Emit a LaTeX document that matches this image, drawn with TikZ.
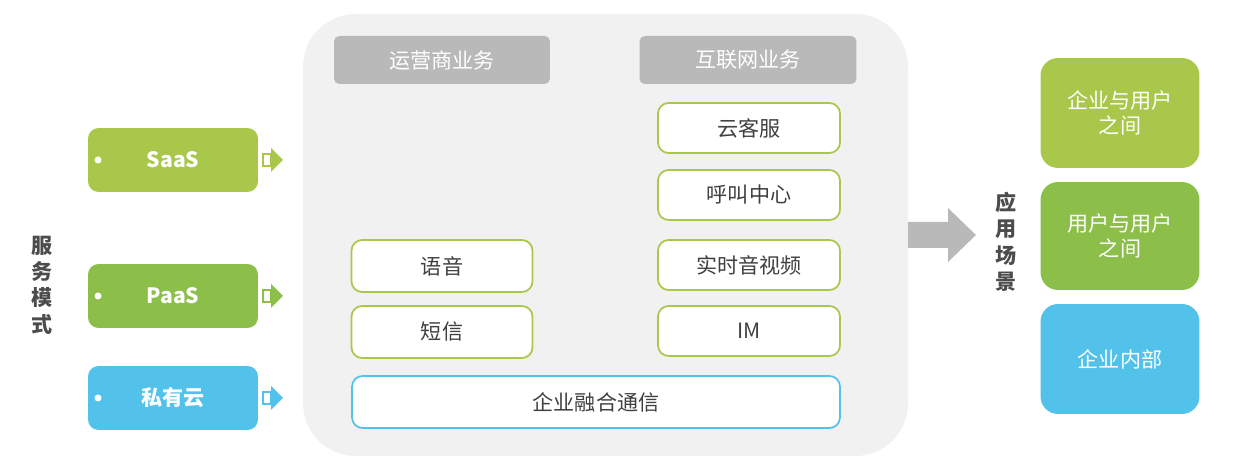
\documentclass[tikz,border=0pt]{standalone}
\usepackage{fontspec}
\setmainfont{Noto Sans CJK SC}
\begin{document}
\begin{tikzpicture}[x=0.02cm,y=-0.02cm,
  lg/.style={fill=lgc,draw=none,rounded corners=6,text=white,font=\large},
  hdr/.style={fill=hdrc,draw=none,rounded corners=3,text=white,font=\large},
  vt/.style={text=black!70,font=\large\bfseries,align=center,inner sep=0},
  wb/.style={fill=white,draw=lgc,line width=1pt,rounded corners=6,text=black!75,font=\large}]
\definecolor{lgc}{HTML}{A9C84B}
\definecolor{dgc}{HTML}{8CBE4A}
\definecolor{bc}{HTML}{52C2EA}
\definecolor{hdrc}{HTML}{B9B9B9}
\definecolor{pc}{HTML}{F1F1F1}
\useasboundingbox (0,0) rectangle (1238,472);
\fill[pc,rounded corners=30] (303,14) rectangle (908,456);
% left boxes
\foreach \n/\t/\y/\c in {s/SaaS/160/lgc,p/PaaS/296/dgc,q/私有云/398/bc}{
  \node[lg,fill=\c,minimum width=3.4cm,minimum height=1.28cm,font=\large\bfseries] (\n) at (173,\y) {\t};
  \fill[white] (98,\y) circle (3.5);
  \draw[\c,line width=1.5pt] (263,\y-6) rectangle (271,\y+6);
  \fill[\c] (271,\y-6) -- (271,\y-12) -- (283,\y) -- (271,\y+12) -- (271,\y+6) -- cycle;
}
\node[vt] (fw) at (42,285) {服\\[1pt]务\\[1pt]模\\[1pt]式};
% headers
\node[hdr,minimum width=4.32cm,minimum height=0.96cm] (h1) at (442,60) {运营商业务};
\node[hdr,minimum width=4.34cm,minimum height=0.96cm] (h2) at (748,60) {互联网业务};
\foreach \n/\t/\y in {a/云客服/128,b/呼叫中心/195,c/实时音视频/265,d/IM/331}
  \node[wb,minimum width=3.64cm,minimum height=1.0cm] (\n) at (749,\y) {\t};
\node[wb,minimum width=3.62cm,minimum height=1.04cm] (e) at (442,266) {语音};
\node[wb,minimum width=3.62cm,minimum height=1.04cm] (f) at (442,332) {短信};
\node[wb,draw=bc,minimum width=9.76cm,minimum height=1.04cm] (g) at (596,402) {企业融合通信};
% big arrow
\fill[hdrc] (908,222) -- (948,222) -- (948,208) -- (976,235) -- (948,262) -- (948,248) -- (908,248) -- cycle;
\node[vt] (yy) at (1006,242) {应\\[1pt]用\\[1pt]场\\[1pt]景};
% right boxes
\node[lg,rounded corners=10,minimum width=3.18cm,minimum height=2.2cm,align=center] (r1) at (1120,113) {企业与用户\\之间};
\node[lg,fill=dgc,rounded corners=10,minimum width=3.18cm,minimum height=2.16cm,align=center] (r2) at (1120,236) {用户与用户\\之间};
\node[lg,fill=bc,rounded corners=10,minimum width=3.18cm,minimum height=2.2cm] (r3) at (1120,359) {企业内部};
\end{tikzpicture}
\end{document}
